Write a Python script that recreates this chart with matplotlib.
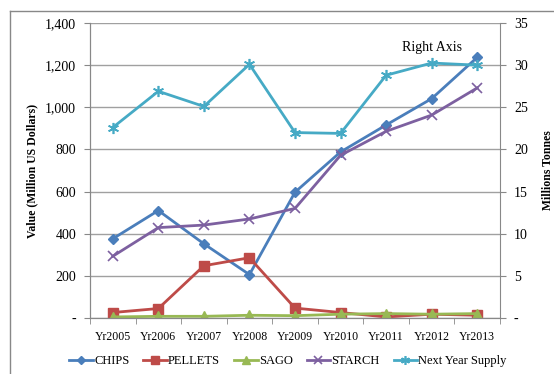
import matplotlib.pyplot as plt
from matplotlib.lines import Line2D
from matplotlib.ticker import FuncFormatter, FixedLocator
import numpy as np

years = ["Yr2005", "Yr2006", "Yr2007", "Yr2008", "Yr2009",
         "Yr2010", "Yr2011", "Yr2012", "Yr2013"]

# value, million US dollars (left axis)
chips = [376, 510, 352, 206, 597, 788, 916, 1041, 1237]
pellets = [26, 45, 248, 286, 47, 26, 5, 18, 13]
sago = [5, 8, 8, 13, 11, 18, 21, 18, 21]
starch = [293, 429, 441, 470, 520, 772, 886, 963, 1092]
# next year supply, million tonnes (right axis)
supply = [22.6, 26.9, 25.1, 30.1, 22.0, 21.9, 28.8, 30.25, 30.0]

plt.rcParams['font.family'] = ['Liberation Serif', 'DejaVu Serif']

fig = plt.figure(figsize=(5.54, 3.74), dpi=100)
ax = fig.add_axes([90 / 554, 1 - 318 / 374, 410 / 554, 295 / 374])
ax2 = ax.twinx()

x = np.arange(len(years))
ax.plot(x, chips, color='#4a7ebb', lw=2, marker='D', ms=5, label='CHIPS')
ax.plot(x, pellets, color='#be4b48', lw=2, marker='s', ms=6.5, label='PELLETS')
ax.plot(x, sago, color='#98b954', lw=2, marker='^', ms=7, label='SAGO')
ax.plot(x, starch, color='#7d60a0', lw=2, marker='x', ms=7, mew=1.2, label='STARCH')
ax2.plot(x, supply, color='#46aac5', lw=2, marker=(6, 2, 0), ms=8, mew=1.2,
         label='Next Year Supply')

ax.set_xlim(-0.5, len(years) - 0.5)
ax.set_ylim(0, 1400)
ax2.set_ylim(0, 35)
ax.set_yticks(np.arange(0, 1401, 200))
ax2.set_yticks(np.arange(0, 36, 5))
ax.yaxis.set_major_formatter(FuncFormatter(lambda v, p: '-' if v == 0 else f'{int(v):,}'))
ax2.yaxis.set_major_formatter(FuncFormatter(lambda v, p: '-' if v == 0 else f'{int(v)}'))

ax.set_xticks(x)
ax.set_xticklabels(years)
ax.xaxis.set_minor_locator(FixedLocator(np.arange(-0.5, len(years), 1)))
ax.tick_params(axis='x', which='major', length=0, pad=9, labelsize=8.5)
ax.tick_params(axis='x', which='minor', length=4, color='#888888', direction='out')
ax.tick_params(axis='y', length=4, color='#888888', labelsize=10, pad=6)
ax2.tick_params(axis='y', length=4, color='#888888', labelsize=10, pad=6)

ax.grid(axis='y', color='#a0a0a0', lw=1)
ax.set_axisbelow(True)
for a in (ax, ax2):
    a.spines['top'].set_visible(False)
    for s in ('left', 'right', 'bottom'):
        a.spines[s].set_color('#888888')
ax.spines['right'].set_visible(False)

ax.set_ylabel('Value (Million US Dollars)', fontsize=8.5, fontweight='bold', labelpad=5)
ax2.set_ylabel('Millions Tonnes', fontsize=8.5, fontweight='bold', labelpad=10)

ax2.text(7, 31.3, 'Right Axis', ha='center', va='bottom', fontsize=10)

handles = ax.get_lines() + ax2.get_lines()
fig.legend(handles, [h.get_label() for h in handles], loc='center',
           bbox_to_anchor=(288 / 554, 1 - 361 / 374), ncol=5, frameon=False,
           fontsize=9, handlelength=1.9, handletextpad=0.1, columnspacing=1.1,
           markerscale=0.8)

# outer chart border (left and top edges visible)
fig.add_artist(Line2D([10 / 554, 10 / 554], [0, 1 - 11 / 374], color='#888888', lw=1))
fig.add_artist(Line2D([10 / 554, 1], [1 - 11 / 374, 1 - 11 / 374], color='#888888', lw=1))

fig.savefig('out.png', dpi=100)
